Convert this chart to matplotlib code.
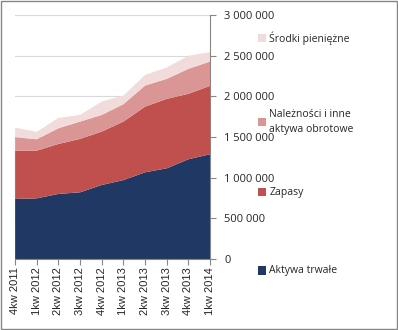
import numpy as np
import matplotlib.pyplot as plt
from matplotlib.patches import Rectangle

plt.rcParams['font.family'] = ['Open Sans', 'DejaVu Sans']

quarters = ['4kw 2011', '1kw 2012', '2kw 2012', '3kw 2012', '4kw 2012',
            '1kw 2013', '2kw 2013', '3kw 2013', '4kw 2013', '1kw 2014']
aktywa_trwale = [738000, 746000, 800000, 820000, 910000, 970000, 1066000, 1115000, 1226000, 1288000]
zapasy = [594000, 586000, 614000, 656000, 656000, 719000, 807000, 853000, 804000, 840000]
naleznosci = [165000, 140000, 193000, 213000, 205000, 214000, 259000, 246000, 307000, 299000]
srodki = [118000, 90000, 127000, 82000, 164000, 106000, 131000, 139000, 160000, 115000]

series_names = ['Aktywa trwałe', 'Zapasy', 'Należności i inne\naktywa obrotowe', 'Środki pieniężne']
colors = ['#1F3864', '#C0504D', '#D99694', '#F2DCDB']
yticks = np.arange(0, 3000001, 500000)

fig = plt.figure(figsize=(3.98, 3.30), dpi=100)
ax = fig.add_axes([0.038, 0.215, 0.49, 0.74])

x = np.arange(len(quarters))
polys = ax.stackplot(x, aktywa_trwale, zapasy, naleznosci, srodki, colors=colors, linewidth=0)

ax.set_xlim(0, len(quarters) - 1)
ax.set_ylim(0, 3000000)
ax.set_xticks(x)
ax.set_xticklabels(quarters, rotation=90, fontsize=8, family=['Liberation Sans', 'DejaVu Sans'])
ax.set_yticks(yticks)
ax.set_yticklabels([f'{v:,}'.replace(',', ' ') for v in yticks], fontsize=8)
ax.yaxis.tick_right()
ax.grid(axis='y', color='#D9D9D9', linewidth=0.8)
ax.set_axisbelow(True)
for side in ['top', 'left']:
    ax.spines[side].set_visible(False)
for side in ['right', 'bottom']:
    ax.spines[side].set_color('#868686')
ax.tick_params(axis='both', colors='#868686', length=4, labelcolor='#262626')
ax.tick_params(axis='x', pad=2)
ax.tick_params(axis='y', pad=6)

# legend column on the right, top to bottom
legend_y = [0.885, 0.63, 0.418, 0.18]
for poly, name, ly in zip(polys[::-1], series_names[::-1], legend_y):
    fig.patches.append(Rectangle((0.648, ly - 0.013), 0.02, 0.026, transform=fig.transFigure,
                                 facecolor=poly.get_facecolor()[0], edgecolor='none'))
    fig.text(0.677, ly, name, fontsize=7.5, color='#262626', va='center', ha='left', linespacing=1.5)

# outer frame
fig.patches.append(Rectangle((0.002, 0.002), 0.995, 0.994, transform=fig.transFigure,
                             facecolor='none', edgecolor='#868686', linewidth=1))

fig.savefig('out.png', dpi=100)
